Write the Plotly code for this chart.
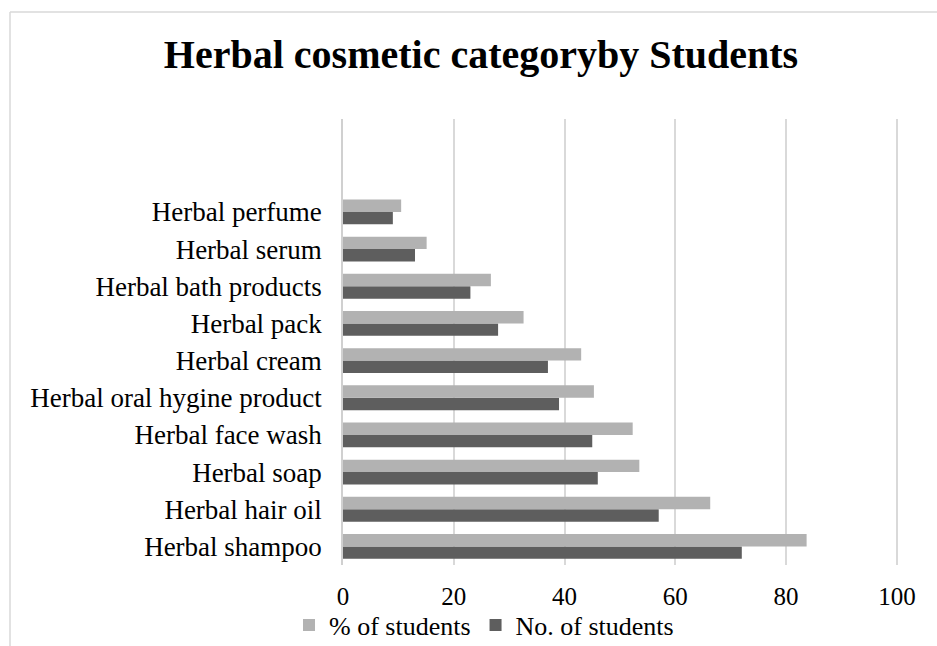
import plotly.graph_objects as go

categories = ["Herbal shampoo", "Herbal hair oil", "Herbal soap", "Herbal face wash",
              "Herbal oral hygine product", "Herbal cream", "Herbal pack",
              "Herbal bath products", "Herbal serum", "Herbal perfume"]
no_students = [72, 57, 46, 45, 39, 37, 28, 23, 13, 9]
pct_students = [83.7, 66.3, 53.5, 52.3, 45.3, 43.0, 32.6, 26.7, 15.1, 10.5]
x_ticks = [0, 20, 40, 60, 80, 100]

W, H = 937, 646
L, R, T, B = 343, 39, 119, 81
PW, PH = W - L - R, H - T - B
FONT = "Liberation Serif, Times New Roman, serif"

fig = go.Figure()
fig.add_trace(go.Bar(y=categories, x=no_students, orientation="h", name="No. of students",
                     marker=dict(color="#5e5e5e", line=dict(width=0)), legendrank=2))
fig.add_trace(go.Bar(y=categories, x=pct_students, orientation="h", name="% of students",
                     marker=dict(color="#b2b2b2", line=dict(width=0)), legendrank=1))

def px(x):
    return (x - L) / PW

def py(y):
    return (H - B - y) / PH

fig.update_layout(
    width=W, height=H,
    margin=dict(l=L, r=R, t=T, b=B, autoexpand=False),
    paper_bgcolor="white", plot_bgcolor="white",
    barmode="group", bargap=0.33, bargroupgap=0,
    font=dict(family=FONT, size=25, color="#000000"),
    title=dict(text="<b>Herbal cosmetic categoryby Students</b>",
               font=dict(family=FONT, size=40, color="#000000"),
               x=481 / W, xanchor="center", xref="container",
               y=1 - 54 / H, yanchor="middle", yref="container"),
    xaxis=dict(range=[0, 100.2], tickvals=x_ticks, showgrid=True, gridcolor="#d9d9d9",
               gridwidth=1.5, zeroline=False, showline=False, ticklabelstandoff=14,
               tickfont=dict(size=25), automargin=False),
    yaxis=dict(type="category", categoryorder="array", categoryarray=categories,
               range=[-0.5, 11.5], showgrid=False, zeroline=False,
               showline=True, linecolor="#d0d0d0", linewidth=1.5,
               ticklabelstandoff=14, tickfont=dict(size=27), automargin=False),
    legend=dict(orientation="h", xref="container", x=484 / W, xanchor="center",
                yref="container", y=1 - 625 / H, yanchor="middle", font=dict(size=26),
                itemwidth=30, bgcolor="rgba(0,0,0,0)"),
    showlegend=True,
    shapes=[
        dict(type="line", xref="paper", yref="paper", x0=px(10), x1=px(10),
             y0=py(12), y1=py(660), line=dict(color="#d9d9d9", width=1.5)),
        dict(type="line", xref="paper", yref="paper", x0=px(10), x1=px(950),
             y0=py(12), y1=py(12), line=dict(color="#d9d9d9", width=1.5)),
    ],
)

fig.write_html("out.html")
